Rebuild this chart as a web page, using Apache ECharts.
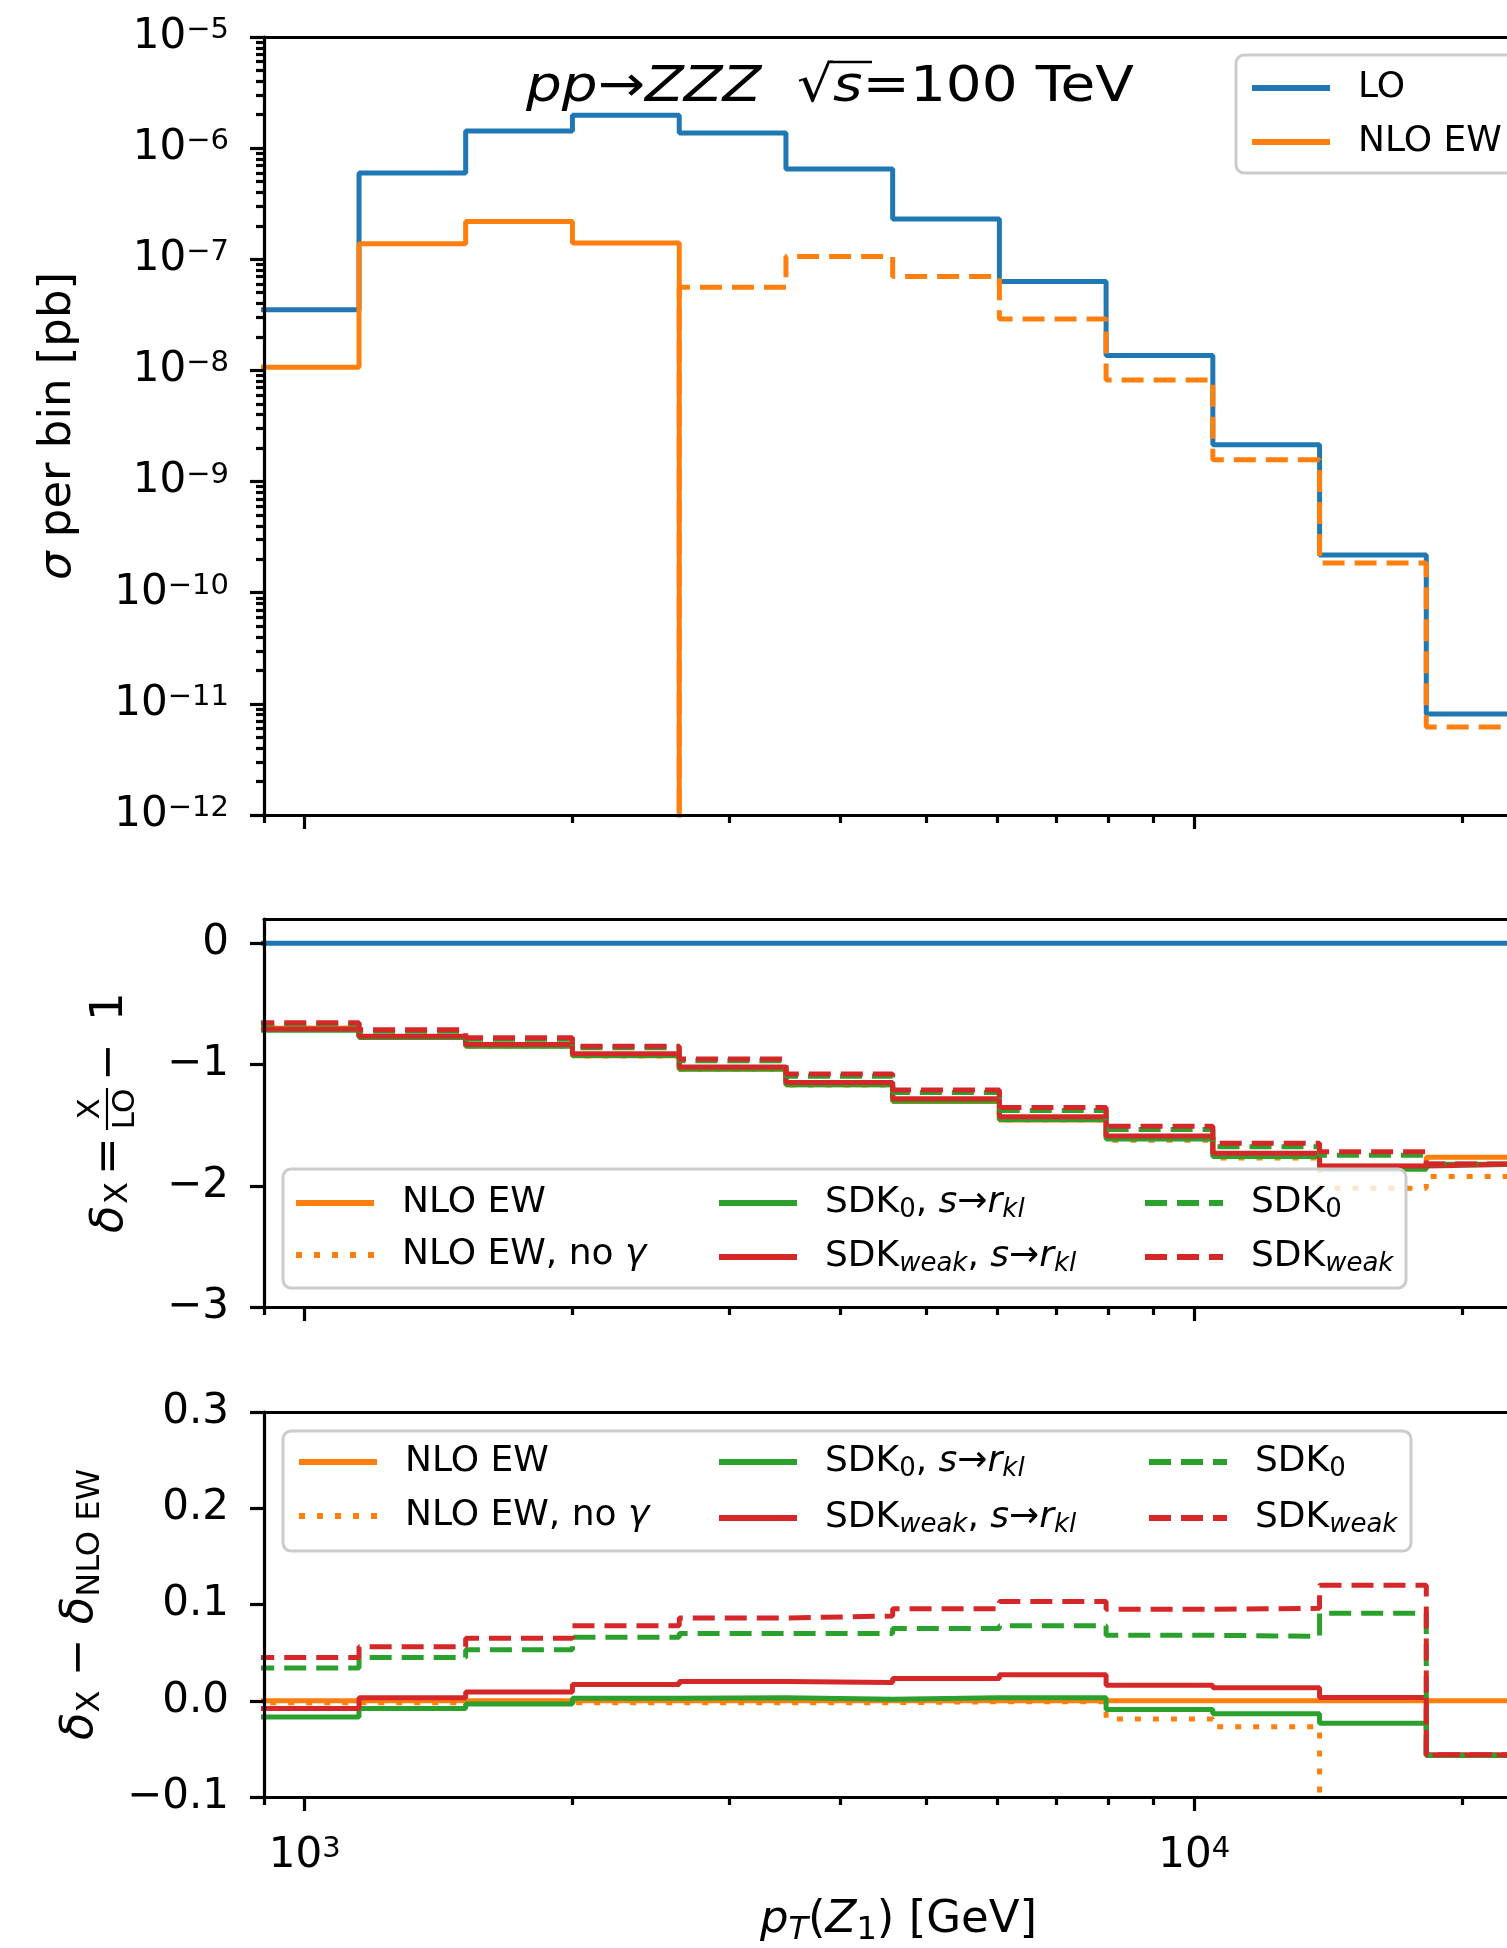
<!DOCTYPE html>
<html>
<head>
<meta charset="utf-8">
<script src="https://cdn.jsdelivr.net/npm/echarts@6/dist/echarts.min.js"></script>
<style>
html,body{margin:0;padding:0;overflow:hidden;background:#fff;}
#chart{width:1545px;height:1948px;}
</style>
</head>
<body>
<div id="chart"></div>
<script>
// ---------------- data ----------------
const binEdges = [873, 1151, 1517, 2000, 2637, 3476, 4582, 6040, 7962, 10496, 13836, 18239, 24043];

// top panel: sigma per bin [pb]
const sigmaLO    = [3.52e-8, 5.97e-7, 1.43e-6, 1.98e-6, 1.37e-6, 6.5e-7, 2.30e-7, 6.32e-8, 1.365e-8, 2.14e-9, 2.19e-10, 8.1e-12];
const sigmaNLOEW = [1.07e-8, 1.38e-7, 2.19e-7, 1.40e-7, -5.6e-8, -1.06e-7, -7.0e-8, -2.9e-8, -8.2e-9, -1.57e-9, -1.85e-10, -6.2e-12];

// middle panel: delta_X = X/LO - 1
const deltaLO         = [0, 0, 0, 0, 0, 0, 0, 0, 0, 0, 0, 0];
const deltaNLOEW      = [-0.700, -0.770, -0.845, -0.928, -1.040, -1.167, -1.305, -1.457, -1.605, -1.745, -1.840, -1.765];
const deltaNoGamma    = [-0.702, -0.772, -0.847, -0.930, -1.042, -1.169, -1.306, -1.458, -1.624, -1.772, -2.020, -1.923];
const deltaSDK0rkl    = [-0.717, -0.778, -0.849, -0.926, -1.037, -1.166, -1.302, -1.454, -1.614, -1.759, -1.864, -1.822];
const deltaSDKweakRkl = [-0.708, -0.767, -0.836, -0.911, -1.020, -1.148, -1.282, -1.430, -1.589, -1.732, -1.837, -1.821];
const deltaSDK0       = [-0.666, -0.725, -0.792, -0.862, -0.970, -1.097, -1.230, -1.379, -1.537, -1.678, -1.749, -1.822];
const deltaSDKweak    = [-0.655, -0.714, -0.780, -0.850, -0.954, -1.079, -1.210, -1.354, -1.510, -1.649, -1.720, -1.821];

// bottom panel: delta_X - delta_NLO EW
const diffNLOEW      = [0, 0, 0, 0, 0, 0, 0, 0, 0, 0, 0, 0];
const diffNoGamma    = [-0.002, -0.002, -0.002, -0.002, -0.002, -0.002, -0.001, -0.001, -0.019, -0.027, -0.180, -0.158];
const diffSDK0rkl    = [-0.017, -0.008, -0.0035, 0.0025, 0.003, 0.0015, 0.003, 0.003, -0.009, -0.0135, -0.0235, -0.057];
const diffSDKweakRkl = [-0.008, 0.003, 0.009, 0.017, 0.020, 0.019, 0.023, 0.027, 0.016, 0.0135, 0.0035, -0.056];
const diffSDK0       = [0.034, 0.045, 0.053, 0.066, 0.070, 0.070, 0.075, 0.078, 0.068, 0.067, 0.091, -0.057];
const diffSDKweak    = [0.045, 0.056, 0.065, 0.078, 0.086, 0.088, 0.0955, 0.103, 0.095, 0.096, 0.120, -0.056];

// axis ticks / labels
const X_MIN = 900, X_MAX = 24043;
const xMajorTicks = [1000, 10000];
const xMinorTicks = [900, 2000, 3000, 4000, 5000, 6000, 7000, 8000, 9000, 20000];
const yTopMin = 1e-12, yTopMax = 1e-5;
const yTopMinorMantissa = [2, 3, 4, 5, 6, 7, 8, 9];
const yTopDecades = [-12, -11, -10, -9, -8, -7, -6];
const yMidTicks = [-3, -2, -1, 0];
const yBotTicks = [-0.1, 0.0, 0.1, 0.2, 0.3];

// ---------------- styling ----------------
const FONT = 'DejaVu Sans';
const C_BLUE = '#1f77b4', C_ORANGE = '#ff7f0e', C_GREEN = '#2ca02c', C_RED = '#d62728';
const LW = 5;
const LEG_LW = 6;
const DASH = [22, 10], DOT = [6, 12];
const SPINE = {color: '#000', width: 3.2};
const CLIP_LOW = 1e-30; // log axis: non-positive values are clipped far below the axis

function steps(vals) {
  const d = vals.map((v, i) => [binEdges[i], v]);
  d.push([binEdges[vals.length], vals[vals.length - 1]]);
  return d;
}
function lineSeries(name, data, xi, yi, color, type) {
  return {
    type: 'line', name, data: steps(data), xAxisIndex: xi, yAxisIndex: yi,
    step: 'end', symbol: 'none', showSymbol: false, clip: true, silent: true,
    animation: false, emphasis: {disabled: true},
    lineStyle: {color, width: LW, type: type || 'solid', cap: 'butt'},
    itemStyle: {color}
  };
}

const tickRich = {
  b: {fontFamily: FONT, fontSize: 42, lineHeight: 42, color: '#000'},
  s: {fontFamily: FONT, fontSize: 29, lineHeight: 18, verticalAlign: 'top', color: '#000'}
};
const nameRich = {
  n: {fontFamily: FONT, fontSize: 45, lineHeight: 54, color: '#000'},
  i: {fontFamily: FONT, fontSize: 45, lineHeight: 54, fontStyle: 'italic', color: '#000'},
  sub: {fontFamily: FONT, fontSize: 32, lineHeight: 30, verticalAlign: 'bottom', color: '#000'},
  isub: {fontFamily: FONT, fontSize: 32, lineHeight: 30, verticalAlign: 'bottom', fontStyle: 'italic', color: '#000'}
};
const legRich = {
  gap: {width: 23, fontSize: 36, lineHeight: 40},
  n: {fontFamily: FONT, fontSize: 36, lineHeight: 40, color: '#000'},
  i: {fontFamily: FONT, fontSize: 36, lineHeight: 40, fontStyle: 'italic', color: '#000'},
  sub: {fontFamily: FONT, fontSize: 26, lineHeight: 26, verticalAlign: 'bottom', color: '#000'},
  isub: {fontFamily: FONT, fontSize: 26, lineHeight: 26, verticalAlign: 'bottom', fontStyle: 'italic', color: '#000'}
};
const legendLabel = {
  'LO': '{n|LO}',
  'NLO EW': '{n|NLO EW}',
  'NLO EW, no γ': '{n|NLO EW, no }{i|γ}',
  'SDK0, s→rkl': '{n|SDK}{sub|0}{n|, }{i|s}{n|→}{i|r}{isub|kl}',
  'SDKweak, s→rkl': '{n|SDK}{isub|weak}{n|, }{i|s}{n|→}{i|r}{isub|kl}',
  'SDK0': '{n|SDK}{sub|0}',
  'SDKweak': '{n|SDK}{isub|weak}'
};

// ---------------- axes ----------------
const LX_MIN = Math.log10(X_MIN), LX_MAX = Math.log10(X_MAX);
function xAxesForGrid(g, withLabels) {
  const major = {
    type: 'value', gridIndex: g, min: LX_MIN, max: LX_MAX, position: 'bottom', z: 20,
    axisLine: {show: false, onZero: false}, splitLine: {show: false},
    axisTick: {show: true, length: 14, lineStyle: SPINE, customValues: xMajorTicks.map(Math.log10)},
    axisLabel: {show: withLabels, customValues: xMajorTicks.map(Math.log10), margin: 38,
      formatter: v => '{b|10}{s|' + Math.round(v) + '}', rich: tickRich}
  };
  if (withLabels) {
    major.name = '{i|p}{isub|T}{n|(}{i|Z}{sub|1}{n|) [GeV]}';
    major.nameLocation = 'middle';
    major.nameGap = 96;
    major.nameTextStyle = {rich: nameRich, fontFamily: FONT, fontSize: 45};
  }
  return [
    {type: 'log', logBase: 10, gridIndex: g, min: X_MIN, max: X_MAX, position: 'bottom', z: 20,
     axisLine: {show: true, onZero: false, lineStyle: SPINE}, axisTick: {show: false},
     axisLabel: {show: false}, splitLine: {show: false}},
    major,
    {type: 'value', gridIndex: g, min: LX_MIN, max: LX_MAX, position: 'bottom', z: 20,
     axisLine: {show: false, onZero: false}, splitLine: {show: false},
     axisTick: {show: true, length: 8, lineStyle: SPINE, customValues: xMinorTicks.map(Math.log10)},
     axisLabel: {show: false}},
    {type: 'value', gridIndex: g, min: 0, max: 1, position: 'top', z: 20,
     axisLine: {show: true, onZero: false, lineStyle: SPINE}, axisTick: {show: false},
     axisLabel: {show: false}, splitLine: {show: false}}
  ];
}
const xAxes = [].concat(xAxesForGrid(0, false), xAxesForGrid(1, false), xAxesForGrid(2, true));

const yTopMinor = [];
yTopDecades.forEach(e => yTopMinorMantissa.forEach(m => yTopMinor.push(Math.log10(m) + e)));

const plainLabel = {fontFamily: FONT, fontSize: 42, color: '#000'};
const yAxes = [
  {type: 'log', logBase: 10, gridIndex: 0, min: yTopMin, max: yTopMax, position: 'left', z: 20,
   axisLine: {show: true, onZero: false, lineStyle: SPINE}, splitLine: {show: false},
   axisTick: {show: true, length: 14, lineStyle: SPINE},
   axisLabel: {margin: 35, formatter: v => '{b|10}{s|−' + Math.round(-Math.log10(v)) + '}', rich: tickRich},
   name: '{i|σ}{n| per bin [pb]}', nameLocation: 'middle', nameRotate: 90, nameGap: 179,
   nameTextStyle: {rich: nameRich, fontFamily: FONT, fontSize: 45}},
  {type: 'value', gridIndex: 0, min: Math.log10(yTopMin), max: Math.log10(yTopMax), position: 'left', z: 20,
   axisLine: {show: false, onZero: false}, splitLine: {show: false},
   axisTick: {show: true, length: 8, lineStyle: SPINE, customValues: yTopMinor},
   axisLabel: {show: false}},
  {type: 'value', gridIndex: 1, min: -3, max: 0.2, position: 'left', z: 20,
   axisLine: {show: true, onZero: false, lineStyle: SPINE}, splitLine: {show: false},
   axisTick: {show: true, length: 14, lineStyle: SPINE, customValues: yMidTicks},
   axisLabel: {margin: 35, customValues: yMidTicks, ...plainLabel,
     formatter: v => (v < 0 ? '−' : '') + Math.abs(v)}},
  {type: 'value', gridIndex: 2, min: -0.1, max: 0.3, position: 'left', z: 20,
   axisLine: {show: true, onZero: false, lineStyle: SPINE}, splitLine: {show: false},
   axisTick: {show: true, length: 14, lineStyle: SPINE, customValues: yBotTicks},
   axisLabel: {margin: 35, customValues: yBotTicks, ...plainLabel,
     formatter: v => (v < -1e-9 ? '−' : '') + Math.abs(v).toFixed(1)},
   name: '{i|δ}{sub|X}{n| − }{i|δ}{sub|NLO EW}', nameLocation: 'middle', nameRotate: 90, nameGap: 157,
   nameTextStyle: {rich: nameRich, fontFamily: FONT, fontSize: 45}}
];

// ---------------- series ----------------
const nloPositive = sigmaNLOEW.map(v => v > 0 ? v : CLIP_LOW);
const nloNegativeAbs = sigmaNLOEW.map(v => v < 0 ? -v : CLIP_LOW);

const series = [
  lineSeries('LO', sigmaLO, 0, 0, C_BLUE),
  lineSeries('NLO EW', nloPositive, 0, 0, C_ORANGE),
  lineSeries('NLO EW (negative)', nloNegativeAbs, 0, 0, C_ORANGE, DASH),

  lineSeries('LO', deltaLO, 4, 2, C_BLUE),
  lineSeries('NLO EW', deltaNLOEW, 4, 2, C_ORANGE),
  lineSeries('NLO EW, no γ', deltaNoGamma, 4, 2, C_ORANGE, DOT),
  lineSeries('SDK0, s→rkl', deltaSDK0rkl, 4, 2, C_GREEN),
  lineSeries('SDKweak, s→rkl', deltaSDKweakRkl, 4, 2, C_RED),
  lineSeries('SDK0', deltaSDK0, 4, 2, C_GREEN, DASH),
  lineSeries('SDKweak', deltaSDKweak, 4, 2, C_RED, DASH),

  lineSeries('NLO EW', diffNLOEW, 8, 3, C_ORANGE),
  lineSeries('NLO EW, no γ', diffNoGamma, 8, 3, C_ORANGE, DOT),
  lineSeries('SDK0, s→rkl', diffSDK0rkl, 8, 3, C_GREEN),
  lineSeries('SDKweak, s→rkl', diffSDKweakRkl, 8, 3, C_RED),
  lineSeries('SDK0', diffSDK0, 8, 3, C_GREEN, DASH),
  lineSeries('SDKweak', diffSDKweak, 8, 3, C_RED, DASH)
];

// ---------------- legends ----------------
function mkLegend(names, left, top, gap, extra) {
  return Object.assign({
    data: names, orient: 'vertical', left, top, itemWidth: 78, itemHeight: 40, itemGap: gap,
    padding: 0, selectedMode: false, z: 60,
    lineStyle: {width: LEG_LW},
    itemStyle: {opacity: 0, borderWidth: 0},
    textStyle: {fontFamily: FONT, fontSize: 36, color: '#000', rich: legRich},
    formatter: name => '{gap| }' + legendLabel[name]
  }, extra || {});
}
const legends = [
  mkLegend(['LO', 'NLO EW'], 1236, 55, 18, {
    padding: [15, 300, 13, 13], backgroundColor: 'rgba(255,255,255,0.8)',
    borderColor: '#cccccc', borderWidth: 3, borderRadius: 8}),
  mkLegend(['NLO EW', 'NLO EW, no γ'], 293, 1185, 16),
  mkLegend(['SDK0, s→rkl', 'SDKweak, s→rkl'], 716, 1185, 16),
  mkLegend(['SDK0', 'SDKweak'], 1142, 1185, 16),
  mkLegend(['NLO EW', 'NLO EW, no γ'], 296, 1444, 18),
  mkLegend(['SDK0, s→rkl', 'SDKweak, s→rkl'], 716, 1444, 18),
  mkLegend(['SDK0', 'SDKweak'], 1146, 1444, 18)
];

// ---------------- graphic text (title, middle y label, legend frames) ----------------
function T(text, x, y, size, style, align) {
  return {type: 'text', x, y, style: {text, x: 0, y: 0, fontFamily: FONT, fontSize: size,
    fontStyle: style || 'normal', fill: '#000', align: align || 'left', verticalAlign: 'middle',
    textAlign: align || 'left', textVerticalAlign: 'middle'}};
}
const titleRich = {
  n: {fontFamily: FONT, fontSize: 50, lineHeight: 50, color: '#000'},
  i: {fontFamily: FONT, fontSize: 50, lineHeight: 50, fontStyle: 'italic', color: '#000'}
};
const graphics = [
  {type: 'rect', z: 50, shape: {x: 283, y: 1169, width: 1123, height: 119, r: 8},
   style: {fill: 'rgba(255,255,255,0.8)', stroke: '#cccccc', lineWidth: 3}},
  {type: 'rect', z: 50, shape: {x: 283, y: 1431, width: 1128, height: 120, r: 8},
   style: {fill: 'rgba(255,255,255,0.8)', stroke: '#cccccc', lineWidth: 3}},
  {type: 'text', z: 50, x: 526, y: 88, scaleX: 1.13,
   style: {text: '{i|pp}{n|→}{i|ZZZ}{n|  √}{i|s}{n|=100 TeV}', rich: titleRich,
     fontFamily: FONT, fontSize: 50, align: 'left', verticalAlign: 'middle',
     textAlign: 'left', textVerticalAlign: 'middle', fill: '#000'}},
  {type: 'line', z: 50, shape: {x1: 830, y1: 62, x2: 872, y2: 62}, style: {stroke: '#000', lineWidth: 2.5}},
  {type: 'group', z: 50, x: 110, y: 1233, rotation: Math.PI / 2, children: [
    T('δ', 0, 0, 45, 'italic'),
    T('X', 29, 9, 32),
    T('=', 58, 0, 45),
    T('X', 124, -19, 31, 'normal', 'center'),
    {type: 'line', shape: {x1: 103, y1: -3, x2: 145, y2: -3}, style: {stroke: '#000', lineWidth: 2.2}},
    T('LO', 124, 16, 31, 'normal', 'center'),
    T('−', 152, 0, 45),
    T('1', 212, 0, 45)
  ]}
];

const option = {
  animation: false,
  backgroundColor: '#fff',
  textStyle: {fontFamily: FONT},
  grid: [
    {left: 264, top: 37, width: 1269, height: 778},
    {left: 264, top: 919, width: 1269, height: 388},
    {left: 264, top: 1412, width: 1269, height: 389}
  ],
  xAxis: xAxes,
  yAxis: yAxes,
  legend: legends,
  graphic: {elements: graphics},
  series
};

const chart = echarts.init(document.getElementById('chart'), null, {renderer: 'canvas'});
chart.setOption(option);
</script>
</body>
</html>
